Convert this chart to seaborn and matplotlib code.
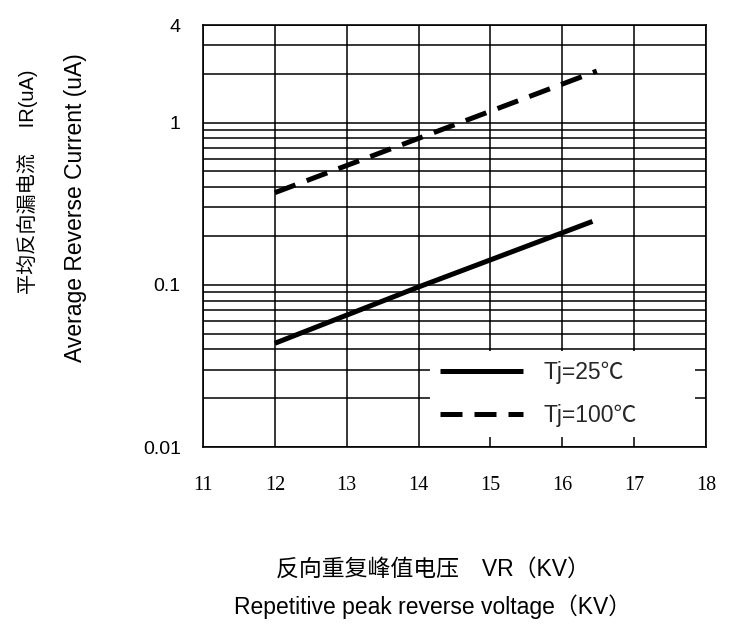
import matplotlib
matplotlib.use("Agg")
import matplotlib.pyplot as plt
from matplotlib.ticker import LogLocator, NullFormatter, FixedLocator
import seaborn as sns
import pandas as pd

# ---- data ----
vr_25 = [12.0, 14.0, 16.42]
ir_25 = [0.0436, 0.097, 0.246]
vr_100 = [12.0, 14.0, 16.48]
ir_100 = [0.37, 0.80, 2.08]
label_25 = "Tj=25℃"
label_100 = "Tj=100℃"
x_ticks = [11, 12, 13, 14, 15, 16, 17, 18]
y_ticks = [0.01, 0.1, 1, 4]
y_ticklabels = ["0.01", "0.1", "1", "4"]

sns.set_theme(style="white")
plt.rcParams['font.family'] = ['Liberation Sans', 'Noto Sans CJK SC', 'DejaVu Sans']

fig = plt.figure(figsize=(7.34, 6.25), dpi=100)
ax = fig.add_axes([203/734, 1-447/625, 503/734, (447-25)/625])

df25 = pd.DataFrame({"VR": vr_25, "IR": ir_25})
df100 = pd.DataFrame({"VR": vr_100, "IR": ir_100})
sns.lineplot(data=df25, x="VR", y="IR", ax=ax, color="black", lw=3.6,
             label=label_25, solid_capstyle="butt", zorder=3)
sns.lineplot(data=df100, x="VR", y="IR", ax=ax, color="black", lw=3.6,
             linestyle=(0, (4.4, 2.4)), label=label_100, dash_capstyle="butt", zorder=3)

ax.set_yscale("log")
ax.set_xlim(11, 18)
ax.set_ylim(0.01, 4)
ax.yaxis.set_major_locator(FixedLocator(y_ticks))
ax.set_yticklabels(y_ticklabels)
ax.yaxis.set_minor_locator(LogLocator(base=10, subs=[2, 3, 4, 5, 6, 7, 8, 9]))
ax.yaxis.set_minor_formatter(NullFormatter())
ax.set_xticks(x_ticks)
ax.set_xticklabels([str(v) for v in x_ticks], family=['Liberation Serif'], fontsize=14.5)
ax.tick_params(axis='y', which='both', length=0, pad=16, labelsize=14, labelcolor='black')
ax.tick_params(axis='x', which='both', length=0, pad=21, labelcolor='black')
ax.grid(True, which='both', axis='both', color='black', lw=1.1)
for s in ax.spines.values():
    s.set_color('black')
    s.set_linewidth(1.2)
ax.set_xlabel("")
ax.set_ylabel("")

leg = ax.legend(loc='lower left', bbox_to_anchor=(0.451, 0.024, 0.527, 0.19), mode='expand',
                borderaxespad=0, frameon=True,
                fontsize=16.5, handlelength=3.6, labelspacing=0.85, handletextpad=0.9,
                borderpad=0.45, fancybox=False)
leg.get_frame().set_facecolor('white')
leg.get_frame().set_edgecolor('none')
leg.get_frame().set_alpha(1)

fig.text(27/734, 1-182/625, "平均反向漏电流　 IR(uA)", rotation=90, ha='center', va='center',
         fontsize=14.5, color='black')
fig.text(76/734, 1-208/625, "Average Reverse Current (uA)", rotation=90, ha='center', va='center',
         fontsize=16.5, color='black')
fig.text(433/734, 1-569/625, "反向重复峰值电压　VR（KV）", ha='center', va='center',
         fontsize=16.5, color='black')
fig.text(433/734, 1-607/625, "Repetitive peak reverse voltage（KV）", ha='center', va='center',
         fontsize=16.5, color='black')

fig.savefig("out.png", dpi=100, facecolor='white')
